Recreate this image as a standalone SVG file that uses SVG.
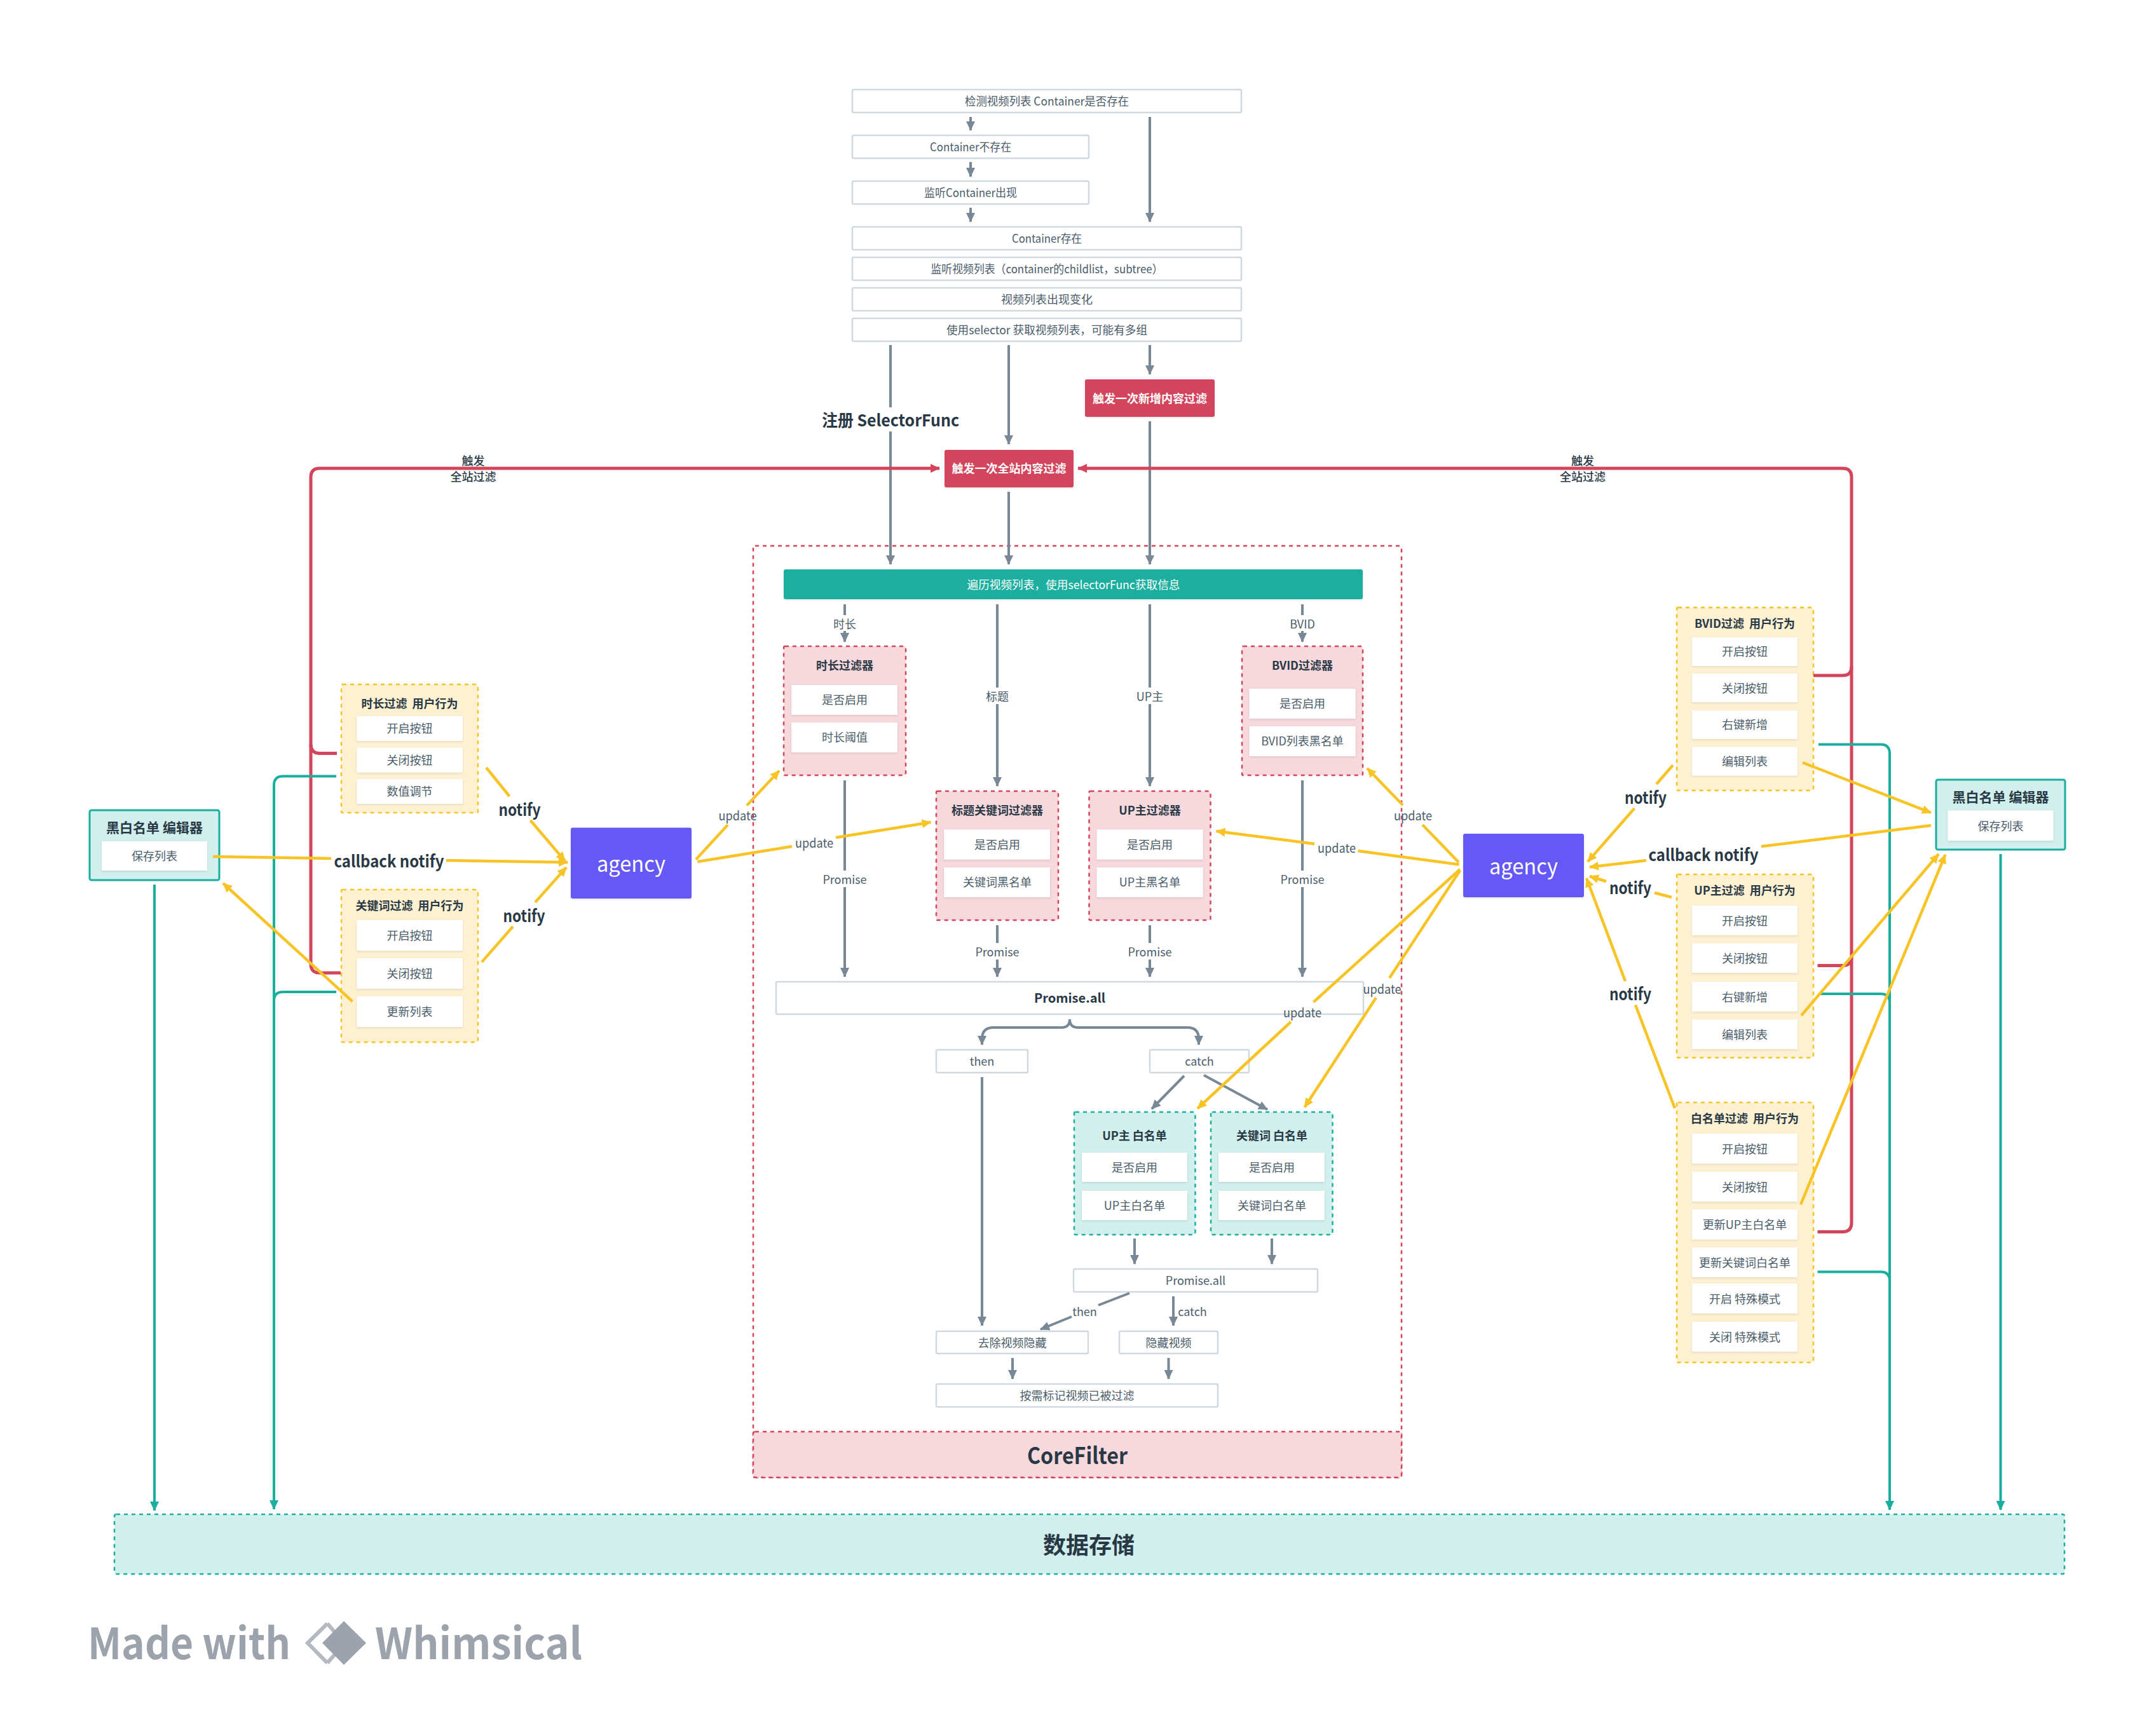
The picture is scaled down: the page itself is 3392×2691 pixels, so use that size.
<svg xmlns="http://www.w3.org/2000/svg" width="3392" height="2691" viewBox="0 0 3392 2691">
<style>
text{font-family:"Noto Sans CJK SC","Noto Sans",sans-serif;text-anchor:middle;dominant-baseline:central;font-size:18px;fill:#4b5c6b;transform:translateY(-1px);white-space:pre}
.h{font-weight:700;fill:#293845}
.w{font-weight:700;fill:#fff}
.box{fill:#fff;stroke:#d0d8e0;stroke-width:2.5}
.item{fill:#fff;filter:url(#s)}
.pink{fill:#f7d8dc;stroke:#d3455b;stroke-width:2.5;stroke-dasharray:6 6}
.mint{fill:#d1efec;stroke:#1aae9f;stroke-width:2.5;stroke-dasharray:6 6}
.sand{fill:#fdf1d2;stroke:#f7c325;stroke-width:2.5;stroke-dasharray:6 6}
.gl{fill:none;stroke:#788896;stroke-width:4}
.rl{fill:none;stroke:#d3455b;stroke-width:5}
.tl{fill:none;stroke:#1aae9f;stroke-width:4}
.yl{fill:none;stroke:#f7c325;stroke-width:4.500}
.n{font-size:26px;font-weight:700;fill:#293845}
.u{font-size:20px}
.l{font-weight:500;fill:#293845}
.wm{font-size:68px;font-weight:700;fill:#9ca3ad;text-anchor:start;dominant-baseline:alphabetic;transform:none}
</style>
<defs>
<filter id="s" x="-10%" y="-10%" width="120%" height="130%"><feDropShadow dx="0" dy="1.5" stdDeviation="1.5" flood-color="#293845" flood-opacity=".12"/></filter>
<marker id="ag" markerUnits="userSpaceOnUse" markerWidth="15" markerHeight="14" refX="14" refY="7" orient="auto"><path d="M0 0L15 7L0 14z" fill="#788896"/></marker>
<marker id="ar" markerUnits="userSpaceOnUse" markerWidth="15" markerHeight="14" refX="14" refY="7" orient="auto"><path d="M0 0L15 7L0 14z" fill="#d3455b"/></marker>
<marker id="at" markerUnits="userSpaceOnUse" markerWidth="15" markerHeight="14" refX="14" refY="7" orient="auto"><path d="M0 0L15 7L0 14z" fill="#1aae9f"/></marker>
<marker id="ay" markerUnits="userSpaceOnUse" markerWidth="15" markerHeight="14" refX="14" refY="7" orient="auto"><path d="M0 0L15 7L0 14z" fill="#f7c325"/></marker>
</defs>

<g id="corefilter"><rect x="1185" y="859" width="1020" height="1466" rx="3" fill="#fff" stroke="#d3455b" stroke-width="2.500" stroke-dasharray="6 6"/><rect class="pink" x="1185" y="2253" width="1020" height="72" rx="3"/><text x="1695" y="2289" class="h" style="font-size:36px" textLength="158" lengthAdjust="spacingAndGlyphs">CoreFilter</text></g>
<g id="storage"><rect class="mint" x="180" y="2383" width="3068" height="94" rx="3"/><text x="1713" y="2430" class="h" style="font-size:36px">数据存储</text></g>

<g id="n1"><rect class="box" x="1341" y="141" width="612" height="36" rx="2"/><text x="1647" y="159" textLength="258" lengthAdjust="spacingAndGlyphs">检测视频列表 Container是否存在</text></g>
<g id="n2"><rect class="box" x="1341" y="213" width="372" height="36" rx="2"/><text x="1527" y="231" textLength="128" lengthAdjust="spacingAndGlyphs">Container不存在</text></g>
<g id="n3"><rect class="box" x="1341" y="285" width="372" height="36" rx="2"/><text x="1527" y="303" textLength="146" lengthAdjust="spacingAndGlyphs">监听Container出现</text></g>
<g id="n4"><rect class="box" x="1341" y="357" width="612" height="36" rx="2"/><text x="1647" y="375" textLength="110" lengthAdjust="spacingAndGlyphs">Container存在</text></g>
<g id="n5"><rect class="box" x="1341" y="405" width="612" height="36" rx="2"/><text x="1647" y="423" textLength="365" lengthAdjust="spacingAndGlyphs">监听视频列表（container的childlist，subtree）</text></g>
<g id="n6"><rect class="box" x="1341" y="453" width="612" height="36" rx="2"/><text x="1647" y="471">视频列表出现变化</text></g>
<g id="n7"><rect class="box" x="1341" y="501" width="612" height="36" rx="2"/><text x="1647" y="519" textLength="316" lengthAdjust="spacingAndGlyphs">使用selector 获取视频列表，可能有多组</text></g>
<g id="trigger-new"><rect x="1707" y="597" width="204" height="59" rx="3" fill="#d3455b" filter="url(#s)"/><text x="1809" y="626.500" class="w">触发一次新增内容过滤</text></g>
<g id="trigger-all"><rect x="1486" y="708" width="203" height="59" rx="3" fill="#d3455b" filter="url(#s)"/><text x="1587.500" y="737" class="w">触发一次全站内容过滤</text></g>
<g id="traverse"><rect x="1233" y="896" width="911" height="47" rx="3" fill="#1aae9f" filter="url(#s)"/><text x="1689" y="920" style="fill:#fff" textLength="335" lengthAdjust="spacingAndGlyphs">遍历视频列表，使用selectorFunc获取信息</text></g>

<g id="f-duration"><rect class="pink" x="1233" y="1017" width="192" height="203" rx="2"/><text x="1329" y="1047" class="h">时长过滤器</text><rect class="item" x="1245" y="1078" width="167" height="47"/><text x="1329" y="1101">是否启用</text><rect class="item" x="1245" y="1137" width="167" height="47"/><text x="1329" y="1160">时长阈值</text></g>
<g id="f-bvid"><rect class="pink" x="1954" y="1017" width="190" height="203" rx="2"/><text x="2049" y="1047" class="h">BVID过滤器</text><rect class="item" x="1965.500" y="1084" width="167" height="47"/><text x="2049" y="1107">是否启用</text><rect class="item" x="1965.500" y="1143" width="167" height="47"/><text x="2049" y="1166">BVID列表黑名单</text></g>
<g id="f-title"><rect class="pink" x="1473" y="1245" width="192" height="203" rx="2"/><text x="1569" y="1275" class="h">标题关键词过滤器</text><rect class="item" x="1485" y="1305.500" width="167" height="47"/><text x="1569" y="1329">是否启用</text><rect class="item" x="1485" y="1365" width="167" height="47"/><text x="1569" y="1388">关键词黑名单</text></g>
<g id="f-up"><rect class="pink" x="1713.500" y="1245" width="191" height="203" rx="2"/><text x="1809" y="1275" class="h">UP主过滤器</text><rect class="item" x="1725.500" y="1305.500" width="167" height="47"/><text x="1809" y="1329">是否启用</text><rect class="item" x="1725.500" y="1365" width="167" height="47"/><text x="1809" y="1388">UP主黑名单</text></g>
<g id="promise-all"><rect class="box" x="1221" y="1545" width="924" height="51" rx="2"/><text x="1683" y="1570" class="h" style="font-size:20px">Promise.all</text></g>
<g id="then"><rect class="box" x="1473" y="1652" width="144" height="36" rx="2"/><text x="1545" y="1670">then</text></g>
<g id="catch"><rect class="box" x="1809" y="1652" width="156" height="36" rx="2"/><text x="1887" y="1670">catch</text></g>
<g id="w-up"><rect class="mint" x="1690" y="1750" width="190.500" height="193" rx="2"/><text x="1785" y="1787" class="h">UP主 白名单</text><rect class="item" x="1702" y="1814" width="166" height="46"/><text x="1785" y="1837">是否启用</text><rect class="item" x="1702" y="1874" width="166" height="46"/><text x="1785" y="1897">UP主白名单</text></g>
<g id="w-key"><rect class="mint" x="1905" y="1750" width="191.500" height="193" rx="2"/><text x="2001" y="1787" class="h">关键词 白名单</text><rect class="item" x="1917" y="1814" width="167" height="46"/><text x="2001" y="1837">是否启用</text><rect class="item" x="1917" y="1874" width="167" height="46"/><text x="2001" y="1897">关键词白名单</text></g>
<g id="promise-all2"><rect class="box" x="1689" y="1997" width="384" height="36" rx="2"/><text x="1881" y="2015">Promise.all</text></g>
<g id="unhide"><rect class="box" x="1473" y="2095" width="239" height="35" rx="2"/><text x="1592.500" y="2113">去除视频隐藏</text></g>
<g id="hide"><rect class="box" x="1761" y="2095" width="155" height="35" rx="2"/><text x="1838.500" y="2113">隐藏视频</text></g>
<g id="mark"><rect class="box" x="1473" y="2178" width="443" height="36" rx="2"/><text x="1694.500" y="2196">按需标记视频已被过滤</text></g>

<g id="u-duration"><rect class="sand" x="537" y="1077" width="215" height="202" rx="2"/><text x="644.500" y="1107" class="h">时长过滤  用户行为</text><rect class="item" x="561.500" y="1127" width="166.500" height="39"/><text x="644.500" y="1146">开启按钮</text><rect class="item" x="561.500" y="1176.500" width="166.500" height="39"/><text x="644.500" y="1196">关闭按钮</text><rect class="item" x="561.500" y="1226" width="166.500" height="39"/><text x="644.500" y="1245">数值调节</text></g>
<g id="u-key"><rect class="sand" x="537" y="1400" width="215" height="240" rx="2"/><text x="644.500" y="1425" class="h">关键词过滤  用户行为</text><rect class="item" x="561.500" y="1448" width="166.500" height="48"/><text x="644.500" y="1472">开启按钮</text><rect class="item" x="561.500" y="1508" width="166.500" height="48"/><text x="644.500" y="1532">关闭按钮</text><rect class="item" x="561.500" y="1568" width="166.500" height="48"/><text x="644.500" y="1592">更新列表</text></g>
<g id="editor-l"><rect x="141" y="1275" width="204" height="110" rx="3" fill="#d1efec" stroke="#1aae9f" stroke-width="3"/><text x="243" y="1302" class="h" style="font-size:21px">黑白名单 编辑器</text><rect class="item" x="160" y="1324" width="166" height="46"/><text x="243" y="1347">保存列表</text></g>
<g id="agency-l"><rect x="898" y="1302.500" width="190" height="111.500" rx="3" fill="#6558f5" filter="url(#s)"/><text x="993" y="1358" style="font-size:34px;fill:#fff" textLength="108" lengthAdjust="spacingAndGlyphs">agency</text></g>
<g id="agency-r"><rect x="2302" y="1312" width="190" height="100" rx="3" fill="#6558f5" filter="url(#s)"/><text x="2397" y="1362" style="font-size:34px;fill:#fff" textLength="108" lengthAdjust="spacingAndGlyphs">agency</text></g>

<g id="u-bvid"><rect class="sand" x="2638" y="956" width="215" height="288" rx="2"/><text x="2745" y="981" class="h">BVID过滤  用户行为</text><rect class="item" x="2662" y="1003" width="166" height="45"/><text x="2745" y="1025">开启按钮</text><rect class="item" x="2662" y="1060" width="166" height="45"/><text x="2745" y="1083">关闭按钮</text><rect class="item" x="2662" y="1118" width="166" height="45"/><text x="2745" y="1140">右键新增</text><rect class="item" x="2662" y="1175.500" width="166" height="45"/><text x="2745" y="1198">编辑列表</text></g>
<g id="u-up"><rect class="sand" x="2638" y="1376" width="215" height="288.500" rx="2"/><text x="2745" y="1401" class="h">UP主过滤  用户行为</text><rect class="item" x="2662" y="1425" width="166" height="46.500"/><text x="2745" y="1449">开启按钮</text><rect class="item" x="2662" y="1484.500" width="166" height="46.500"/><text x="2745" y="1508">关闭按钮</text><rect class="item" x="2662" y="1545" width="166" height="46.500"/><text x="2745" y="1569">右键新增</text><rect class="item" x="2662" y="1604.500" width="166" height="46.500"/><text x="2745" y="1628">编辑列表</text></g>
<g id="u-white"><rect class="sand" x="2638" y="1735" width="215" height="409" rx="2"/><text x="2745" y="1760" class="h">白名单过滤  用户行为</text><rect class="item" x="2662" y="1784" width="166" height="47"/><text x="2745" y="1808">开启按钮</text><rect class="item" x="2662" y="1844" width="166" height="47"/><text x="2745" y="1868">关闭按钮</text><rect class="item" x="2662" y="1903.500" width="166" height="47"/><text x="2745" y="1927">更新UP主白名单</text><rect class="item" x="2662" y="1963" width="166" height="47"/><text x="2745" y="1987">更新关键词白名单</text><rect class="item" x="2662" y="2020" width="166" height="47"/><text x="2745" y="2044">开启 特殊模式</text><rect class="item" x="2662" y="2080" width="166" height="47"/><text x="2745" y="2104">关闭 特殊模式</text></g>
<g id="editor-r"><rect x="3046" y="1227" width="203" height="110" rx="3" fill="#d1efec" stroke="#1aae9f" stroke-width="3"/><text x="3147.500" y="1254" class="h" style="font-size:21px">黑白名单 编辑器</text><rect class="item" x="3064.500" y="1275.500" width="166" height="47.500"/><text x="3147.500" y="1300">保存列表</text></g>

<g id="connectors">
<g>
<path class="gl" marker-end="url(#ag)" d="M1527 184V205"/>
<path class="gl" marker-end="url(#ag)" d="M1527 255V278"/>
<path class="gl" marker-end="url(#ag)" d="M1527 327V349"/>
<path class="gl" marker-end="url(#ag)" d="M1809 184V349"/>
<path class="gl" d="M1401 543V641"/>
<path class="gl" marker-end="url(#ag)" d="M1401 679V888"/>
<path class="gl" marker-end="url(#ag)" d="M1587 543V699"/>
<path class="gl" marker-end="url(#ag)" d="M1809 543V589"/>
<path class="gl" marker-end="url(#ag)" d="M1587 774V888"/>
<path class="gl" marker-end="url(#ag)" d="M1809 663V888"/>
<path class="gl" d="M1329 951V968"/><path class="gl" marker-end="url(#ag)" d="M1329 993V1010"/>
<path class="gl" d="M2049 951V968"/><path class="gl" marker-end="url(#ag)" d="M2049 993V1010"/>
<path class="gl" d="M1569 951V1082"/><path class="gl" marker-end="url(#ag)" d="M1569 1108V1237"/>
<path class="gl" d="M1809 951V1082"/><path class="gl" marker-end="url(#ag)" d="M1809 1108V1237"/>
<path class="gl" d="M1329 1228V1370"/><path class="gl" marker-end="url(#ag)" d="M1329 1396V1537"/>
<path class="gl" d="M2049 1228V1370"/><path class="gl" marker-end="url(#ag)" d="M2049 1396V1537"/>
<path class="gl" d="M1569 1456V1484"/><path class="gl" marker-end="url(#ag)" d="M1569 1510V1537"/>
<path class="gl" d="M1809 1456V1484"/><path class="gl" marker-end="url(#ag)" d="M1809 1510V1537"/>
<path class="gl" marker-end="url(#ag)" d="M1683 1604Q1683 1617 1670 1617H1563Q1545 1617 1545 1635V1644"/>
<path class="gl" marker-end="url(#ag)" d="M1683 1604Q1683 1617 1696 1617H1868Q1886 1617 1886 1635V1644"/>
<path class="gl" marker-end="url(#ag)" d="M1545 1695V2086"/>
<path class="gl" marker-end="url(#ag)" d="M1863 1693L1812 1745"/>
<path class="gl" marker-end="url(#ag)" d="M1894 1692L1994 1746"/>
<path class="gl" marker-end="url(#ag)" d="M1785 1949V1989"/>
<path class="gl" marker-end="url(#ag)" d="M2001 1949V1989"/>
<path class="gl" d="M1777 2035L1728 2054"/>
<path class="gl" marker-end="url(#ag)" d="M1686 2072L1637 2092"/>
<path class="gl" marker-end="url(#ag)" d="M1846 2040V2086"/>
<path class="gl" marker-end="url(#ag)" d="M1593 2137V2170"/>
<path class="gl" marker-end="url(#ag)" d="M1838.500 2137V2170"/>
</g>
<g>
<path class="rl" marker-end="url(#ar)" d="M536 1531H503Q489 1531 489 1517V751Q489 737 503 737H1478"/>
<path class="rl" d="M530 1185.500H503Q489 1185.500 489 1171"/>
<path class="rl" marker-end="url(#ar)" d="M2859.500 1938.500H2899Q2913 1938.500 2913 1924V751Q2913 737 2899 737H1696"/>
<path class="rl" d="M2853 1063H2899Q2913 1063 2913 1049"/>
<path class="rl" d="M2859.500 1519.500H2899Q2913 1519.500 2913 1505"/>
</g>
<g>
<path class="tl" marker-end="url(#at)" d="M243 1392V2377"/>
<path class="tl" marker-end="url(#at)" d="M529 1221.500H445Q431 1221.500 431 1236V2375"/>
<path class="tl" d="M529 1561H445Q431 1561 431 1575"/>
<path class="tl" marker-end="url(#at)" d="M2861 1171.500H2959Q2973 1171.500 2973 1186V2376"/>
<path class="tl" d="M2863 1564H2959Q2973 1564 2973 1578"/>
<path class="tl" d="M2859.500 2001.500H2959Q2973 2001.500 2973 2016"/>
<path class="tl" marker-end="url(#at)" d="M3147.500 1344V2376"/>
</g>
<g>
<path class="yl" d="M765 1208L801.500 1253"/><path class="yl" marker-end="url(#ay)" d="M834.500 1291L889 1355"/>
<path class="yl" d="M335 1348L521 1351"/><path class="yl" marker-end="url(#ay)" d="M702 1354L893 1357"/>
<path class="yl" d="M758 1514L807 1458"/><path class="yl" marker-end="url(#ay)" d="M842 1420L891 1365"/>
<path class="yl" marker-end="url(#ay)" d="M554.500 1576L351 1390"/>
<path class="yl" d="M1095 1352.500L1145 1298"/><path class="yl" marker-end="url(#ay)" d="M1175 1267.500L1226 1213"/>
<path class="yl" d="M1097.500 1356L1246 1332"/><path class="yl" marker-end="url(#ay)" d="M1315 1318L1464.500 1294"/>
<path class="yl" d="M2295 1357L2238 1298"/><path class="yl" marker-end="url(#ay)" d="M2207 1267L2151 1209"/>
<path class="yl" d="M2295.500 1360.500L2136.500 1339"/><path class="yl" marker-end="url(#ay)" d="M2068 1328L1913.500 1308"/>
<path class="yl" d="M2297 1368L2066.500 1577"/><path class="yl" marker-end="url(#ay)" d="M2031 1608L1884 1744.500"/>
<path class="yl" d="M2297 1370L2186 1539"/><path class="yl" marker-end="url(#ay)" d="M2165 1570L2052.500 1742.500"/>
<path class="yl" marker-end="url(#ay)" d="M2836 1200L3038 1279"/>
<path class="yl" d="M3038 1299L2771 1332"/><path class="yl" marker-end="url(#ay)" d="M2590 1354L2501 1364.500"/>
<path class="yl" d="M2632 1204L2606 1234"/><path class="yl" marker-end="url(#ay)" d="M2571.500 1272L2498 1356"/>
<path class="yl" d="M2630 1412L2603 1405"/><path class="yl" marker-end="url(#ay)" d="M2527 1387L2501 1379"/>
<path class="yl" d="M2635 1744L2573 1581.500"/><path class="yl" marker-end="url(#ay)" d="M2557 1544L2496 1382"/>
<path class="yl" marker-end="url(#ay)" d="M2834 1598L3050 1344"/>
<path class="yl" marker-end="url(#ay)" d="M2833 1895.500L3060.500 1345"/>
</g>
<g>
<text x="1401" y="660" class="n" textLength="216" lengthAdjust="spacingAndGlyphs">注册 SelectorFunc</text>
<text x="744.500" y="725" class="l">触发</text><text x="744.500" y="750" class="l">全站过滤</text>
<text x="2490" y="725" class="l">触发</text><text x="2490" y="750" class="l">全站过滤</text>
<text x="1329" y="982">时长</text><text x="2049" y="982">BVID</text><text x="1569" y="1096">标题</text><text x="1809" y="1096">UP主</text>
<text x="1329" y="1384">Promise</text><text x="2049" y="1384">Promise</text><text x="1569" y="1498">Promise</text><text x="1809" y="1498">Promise</text>
<text x="1706.500" y="2064">then</text><text x="1876" y="2064">catch</text>
<text x="1160.500" y="1283" class="u" textLength="60" lengthAdjust="spacingAndGlyphs">update</text><text x="1281" y="1326" class="u" textLength="60" lengthAdjust="spacingAndGlyphs">update</text><text x="2223" y="1283" class="u" textLength="60" lengthAdjust="spacingAndGlyphs">update</text><text x="2103" y="1334" class="u" textLength="60" lengthAdjust="spacingAndGlyphs">update</text><text x="2049" y="1593" class="u" textLength="60" lengthAdjust="spacingAndGlyphs">update</text><text x="2174.500" y="1556" class="u" textLength="60" lengthAdjust="spacingAndGlyphs">update</text>
<text x="817.500" y="1273" class="n" textLength="66" lengthAdjust="spacingAndGlyphs">notify</text><text x="612" y="1354" class="n" textLength="173" lengthAdjust="spacingAndGlyphs">callback notify</text><text x="824.500" y="1440" class="n" textLength="66" lengthAdjust="spacingAndGlyphs">notify</text>
<text x="2589" y="1254" class="n" textLength="66" lengthAdjust="spacingAndGlyphs">notify</text><text x="2680" y="1344" class="n" textLength="173" lengthAdjust="spacingAndGlyphs">callback notify</text><text x="2565" y="1396.500" class="n" textLength="66" lengthAdjust="spacingAndGlyphs">notify</text><text x="2565" y="1563" class="n" textLength="66" lengthAdjust="spacingAndGlyphs">notify</text>
</g>
</g>

<g id="watermark">
<text x="138" y="2611" class="wm" textLength="319" lengthAdjust="spacingAndGlyphs">Made with</text>
<path d="M515 2555L484 2585.500L515 2617" fill="none" stroke="#b4b9c0" stroke-width="6"/>
<path d="M515 2555L528 2570M515 2617L528 2602" fill="none" stroke="#b4b9c0" stroke-width="6"/>
<path d="M541 2551L576 2585.500L541 2620L507 2585.500z" fill="#9ca3ad"/>
<text x="590" y="2611" class="wm" textLength="326" lengthAdjust="spacingAndGlyphs">Whimsical</text>
</g>
</svg>
